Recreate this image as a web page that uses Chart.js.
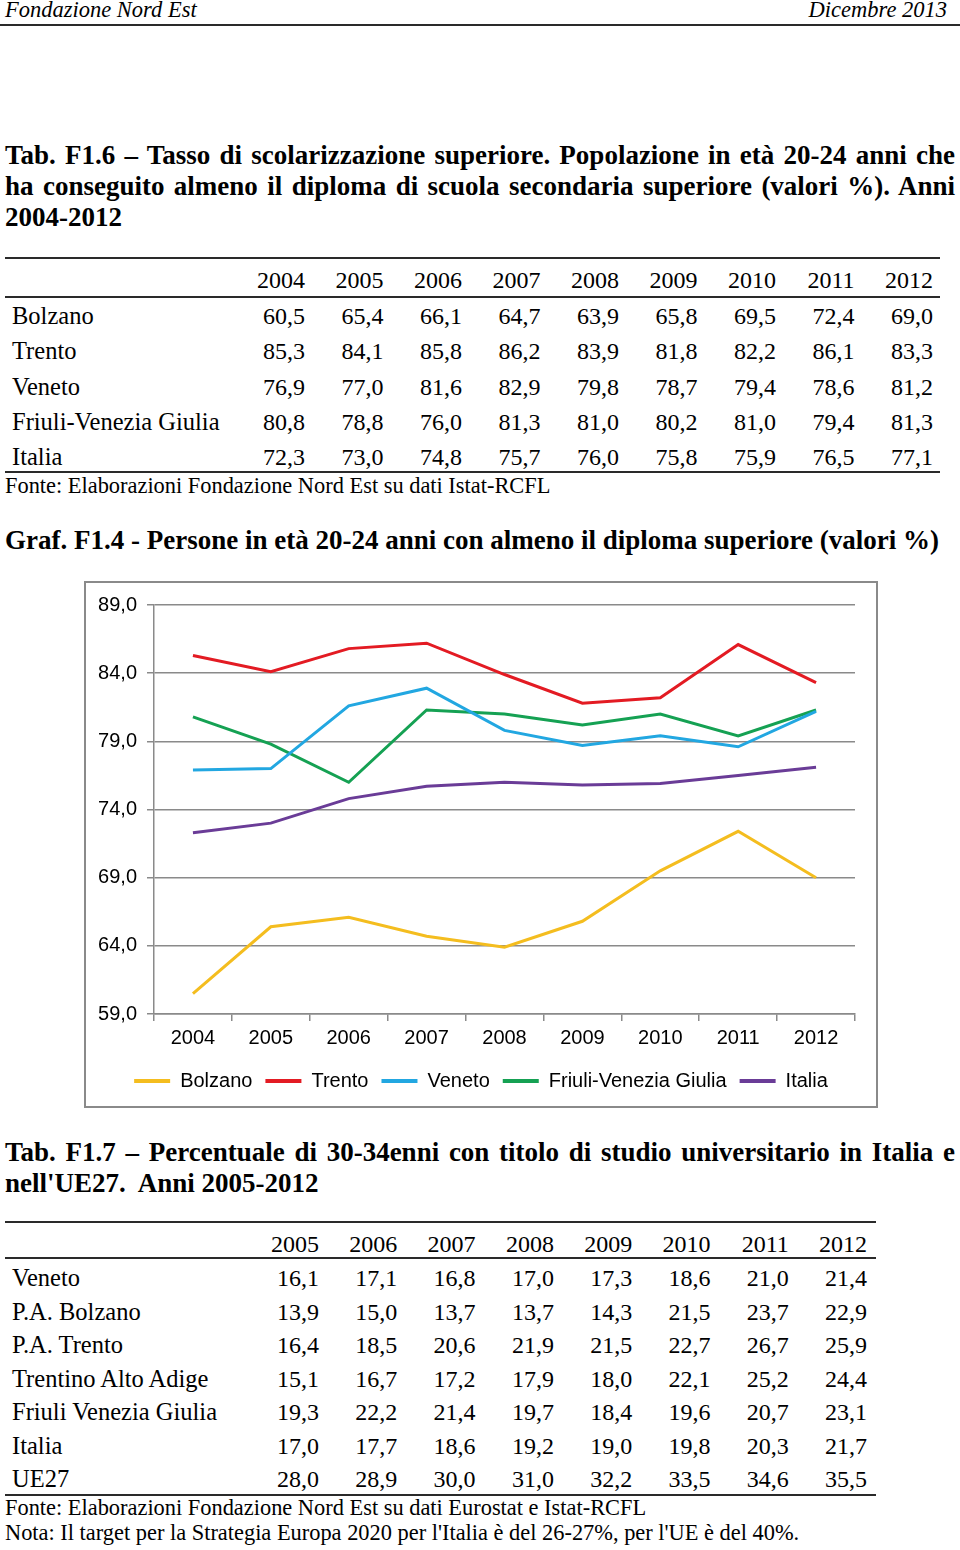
<!DOCTYPE html>
<html>
<head>
<meta charset="utf-8">
<script src="https://cdn.jsdelivr.net/npm/chart.js@4.4.1/dist/chart.umd.min.js"></script>
<style>
body { margin: 0; width: 960px; height: 1550px; position: relative; background: #fff; overflow: hidden;
       font-family: "Liberation Serif", "Times New Roman", serif; color: #000; }
.t { position: absolute; white-space: pre; line-height: 30px; height: 30px; }
.rule { position: absolute; height: 2px; background: #2a2a2a; }
.tit { position: absolute; left: 5px; width: 950px; font-weight: bold; font-size: 27px; line-height: 31px;
       height: 31px; text-align: justify; text-align-last: justify; white-space: pre; }
#box { position: absolute; left: 84px; top: 581px; width: 794px; height: 527px; border: 2px solid #8a8a8a;
       box-sizing: border-box; }
#box canvas { display: block; }
</style>
</head>
<body>
<div id="box"><canvas id="grafico" width="790" height="523"></canvas></div>
<script>
// Tab. F1.6 / Graf. F1.4 - diplomati 20-24 anni (valori %)
const anni1 = ['2004', '2005', '2006', '2007', '2008', '2009', '2010', '2011', '2012'];
const righe1 = ['Bolzano', 'Trento', 'Veneto', 'Friuli-Venezia Giulia', 'Italia'];
const bolzano = [60.5, 65.4, 66.1, 64.7, 63.9, 65.8, 69.5, 72.4, 69.0];
const trento = [85.3, 84.1, 85.8, 86.2, 83.9, 81.8, 82.2, 86.1, 83.3];
const veneto = [76.9, 77.0, 81.6, 82.9, 79.8, 78.7, 79.4, 78.6, 81.2];
const friuli = [80.8, 78.8, 76.0, 81.3, 81.0, 80.2, 81.0, 79.4, 81.3];
const italia = [72.3, 73.0, 74.8, 75.7, 76.0, 75.8, 75.9, 76.5, 77.1];
const coloriSerie = ['#f4bd1f', '#e31b23', '#22a7e1', '#15a153', '#6a3c97'];

// Tab. F1.7 - laureati 30-34 anni
const anni2 = ['2005', '2006', '2007', '2008', '2009', '2010', '2011', '2012'];
const righe2 = ['Veneto', 'P.A. Bolzano', 'P.A. Trento', 'Trentino Alto Adige', 'Friuli Venezia Giulia', 'Italia', 'UE27'];
const laurVeneto = [16.1, 17.1, 16.8, 17.0, 17.3, 18.6, 21.0, 21.4];
const laurBolzano = [13.9, 15.0, 13.7, 13.7, 14.3, 21.5, 23.7, 22.9];
const laurTrento = [16.4, 18.5, 20.6, 21.9, 21.5, 22.7, 26.7, 25.9];
const laurTaa = [15.1, 16.7, 17.2, 17.9, 18.0, 22.1, 25.2, 24.4];
const laurFvg = [19.3, 22.2, 21.4, 19.7, 18.4, 19.6, 20.7, 23.1];
const laurItalia = [17.0, 17.7, 18.6, 19.2, 19.0, 19.8, 20.3, 21.7];
const laurUe27 = [28.0, 28.9, 30.0, 31.0, 32.2, 33.5, 34.6, 35.5];

const fmt = v => v.toFixed(1).replace('.', ',');

// testo posizionato: x = bordo sinistro (o destro se right), cy = centro verticale
function testo(s, x, cy, opt) {
    opt = opt || {};
    const d = document.createElement('div');
    d.className = 't';
    d.textContent = s;
    d.style.top = (cy - 15) + 'px';
    d.style.fontSize = (opt.size || 24) + 'px';
    if (opt.italic) d.style.fontStyle = 'italic';
    if (opt.right) d.style.right = (960 - x) + 'px';
    else d.style.left = x + 'px';
    document.body.appendChild(d);
}
function riga(x1, x2, y) {
    const d = document.createElement('div');
    d.className = 'rule';
    d.style.left = x1 + 'px';
    d.style.width = (x2 - x1) + 'px';
    d.style.top = (y - 1) + 'px';
    document.body.appendChild(d);
}
function titolo(s, cy, last) {
    const d = document.createElement('div');
    d.className = 'tit';
    d.textContent = s;
    d.style.top = (cy - 15) + 'px';
    if (last) d.style.textAlignLast = 'left';
    document.body.appendChild(d);
}

// intestazione pagina
testo('Fondazione Nord Est', 5, 10, { italic: true, size: 22.5 });
testo('Dicembre 2013', 947, 10, { italic: true, size: 22.5, right: true });
riga(0, 960, 25);

// Tab. F1.6
titolo('Tab. F1.6 – Tasso di scolarizzazione superiore. Popolazione in età 20-24 anni che', 155);
titolo('ha conseguito almeno il diploma di scuola secondaria superiore (valori %). Anni', 186);
titolo('2004-2012', 217, true);

riga(5, 940, 258);
anni1.forEach((a, i) => testo(a, 305 + i * 78.5, 280, { right: true }));
riga(5, 940, 297);
const serie1 = [bolzano, trento, veneto, friuli, italia];
const yRighe1 = [316, 351, 387, 422, 457];
righe1.forEach((r, k) => {
    testo(r, 12, yRighe1[k], { size: 24.5 });
    serie1[k].forEach((v, i) => testo(fmt(v), 305 + i * 78.5, yRighe1[k], { right: true }));
});
riga(5, 940, 472);
testo('Fonte: Elaborazioni Fondazione Nord Est su dati Istat-RCFL', 5, 486, { size: 22.4 });

titolo('Graf. F1.4 - Persone in età 20-24 anni con almeno il diploma superiore (valori %)', 540, true);

// Tab. F1.7
titolo("Tab. F1.7 – Percentuale di 30-34enni con titolo di studio universitario in Italia e", 1152);
titolo("nell'UE27.  Anni 2005-2012", 1183, true);

riga(5, 876, 1222);
anni2.forEach((a, i) => testo(a, 319 + i * 78.3, 1244, { right: true }));
riga(5, 876, 1258);
const serie2 = [laurVeneto, laurBolzano, laurTrento, laurTaa, laurFvg, laurItalia, laurUe27];
const yRighe2 = [1278, 1312, 1345, 1379, 1412, 1446, 1479];
righe2.forEach((r, k) => {
    testo(r, 12, yRighe2[k], { size: 24.5 });
    serie2[k].forEach((v, i) => testo(fmt(v), 319 + i * 78.3, yRighe2[k], { right: true }));
});
riga(5, 876, 1495);
testo('Fonte: Elaborazioni Fondazione Nord Est su dati Eurostat e Istat-RCFL', 5, 1508, { size: 22.4 });
testo("Nota: Il target per la Strategia Europa 2020 per l'Italia è del 26-27%, per l'UE è del 40%.", 5, 1533, { size: 22.4 });

// Grafico
const nomiSerie = ['Bolzano', 'Trento', 'Veneto', 'Friuli-Venezia Giulia', 'Italia'];
const grigio = '#8a8a8a';
const fontGrafico = '"Liberation Sans", Arial, sans-serif';
const datasets = serie1.map((s, k) => ({
    label: nomiSerie[k],
    data: s,
    borderColor: coloriSerie[k],
    backgroundColor: coloriSerie[k],
    borderWidth: 3,
    pointRadius: 0,
    tension: 0,
    fill: false
}));

new Chart(document.getElementById('grafico'), {
    type: 'line',
    data: { labels: anni1, datasets: datasets },
    options: {
        responsive: false,
        animation: false,
        layout: { padding: { top: 20, right: 0, left: 0, bottom: 5 } },
        plugins: {
            legend: {
                position: 'bottom',
                labels: {
                    boxWidth: 36,
                    boxHeight: 4,
                    padding: 13,
                    color: '#000',
                    font: { family: fontGrafico, size: 20 },
                    generateLabels: chart => Chart.defaults.plugins.legend.labels.generateLabels(chart)
                        .map(l => Object.assign(l, { lineWidth: 0 }))
                }
            },
            tooltip: { enabled: false }
        },
        scales: {
            x: {
                offset: true,
                afterFit: s => { s.height = 44; },
                grid: { drawOnChartArea: false, drawTicks: true, tickLength: 7, color: grigio, lineWidth: 1.5, offset: true },
                border: { color: grigio, width: 1.5 },
                ticks: { color: '#000', padding: 5, maxRotation: 0, font: { family: fontGrafico, size: 20 } }
            },
            y: {
                min: 59,
                max: 89,
                afterFit: s => { s.width = 68; },
                grid: { color: grigio, lineWidth: 1.5, tickLength: 7 },
                border: { color: grigio, width: 1.5 },
                ticks: { stepSize: 5, color: '#000', padding: 10, callback: v => fmt(v),
                         font: { family: fontGrafico, size: 20 } }
            },
            // margine destro vuoto dell'area del grafico
            margineDx: {
                position: 'right',
                afterFit: s => { s.width = 21; },
                grid: { display: false },
                border: { display: false },
                ticks: { display: false }
            }
        }
    }
});
</script>
</body>
</html>
